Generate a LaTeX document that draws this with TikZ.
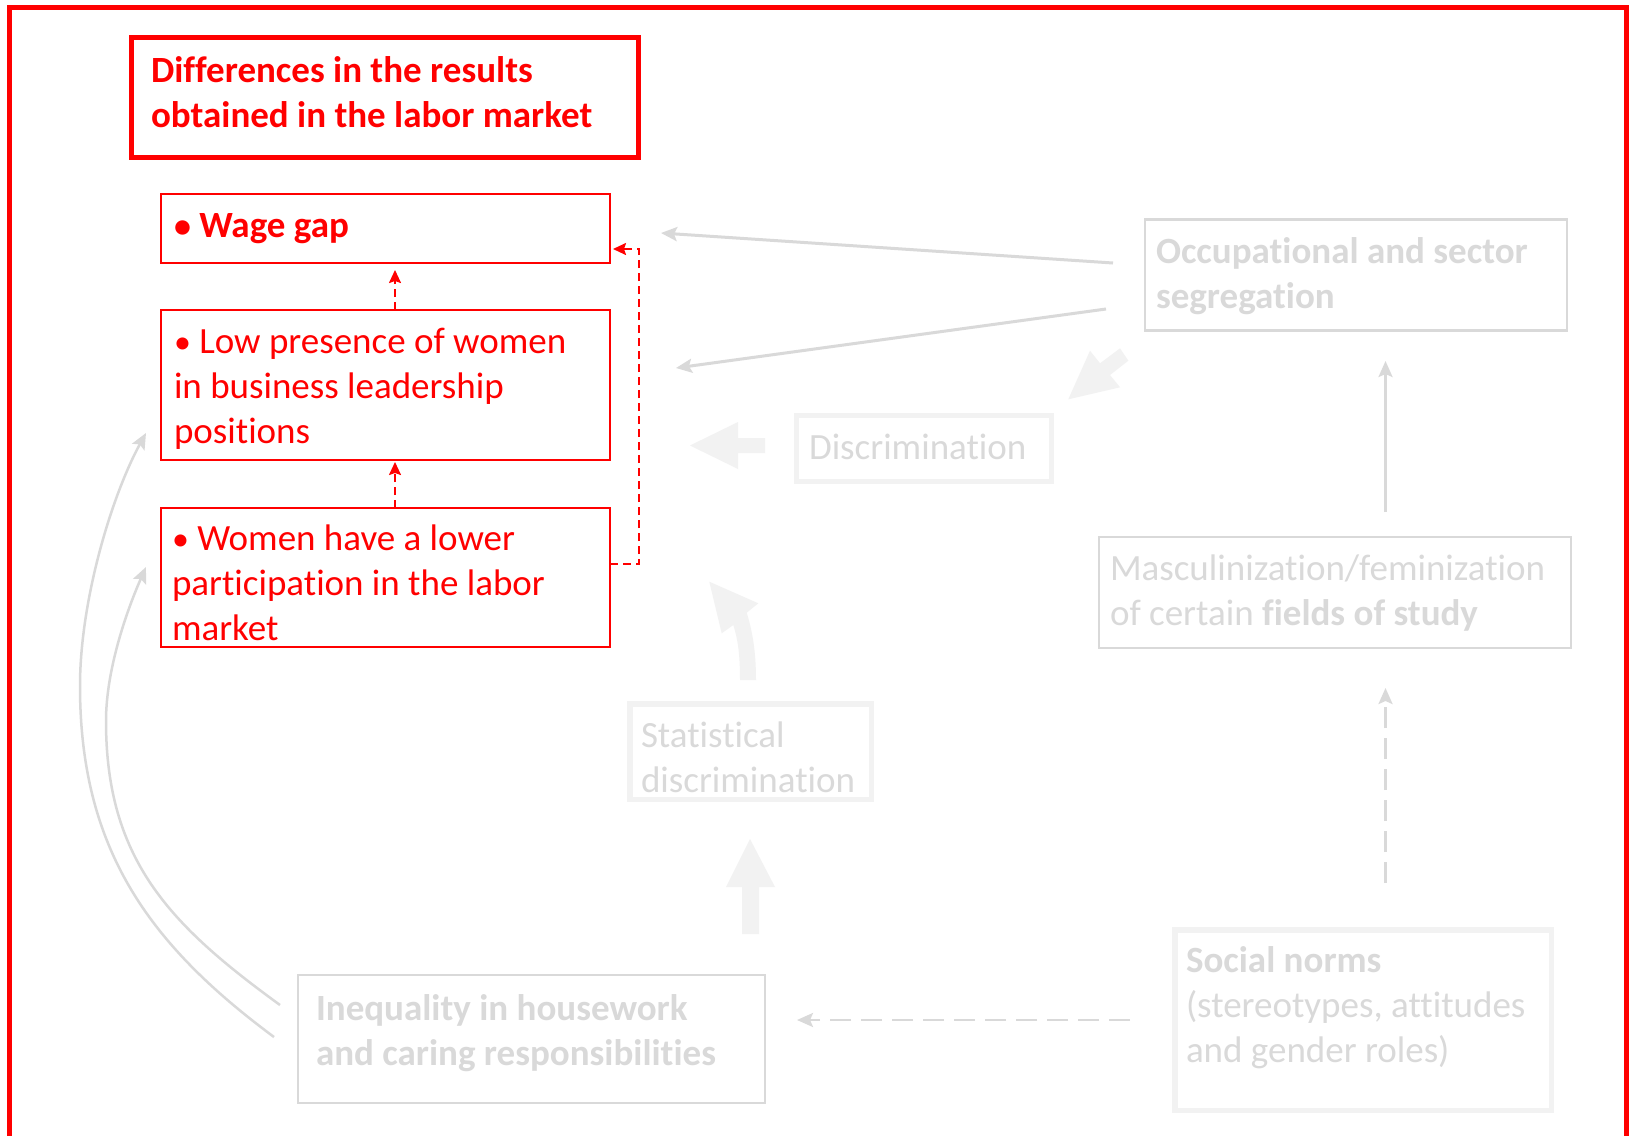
\documentclass[tikz,border=0pt]{standalone}
\usepackage{fontspec}
\setmainfont{Carlito}[Ligatures=NoCommon]
\usetikzlibrary{arrows.meta,calc}
\definecolor{accent}{HTML}{FF0000}
\definecolor{softgray}{HTML}{D9D9D9}
\definecolor{palegray}{HTML}{F2F2F2}
\newcommand{\mlines}[1]{\begin{tabular}[t]{@{}l@{}}#1\end{tabular}}
\newcommand{\dotmark}{{\fontsize{34}{45}\selectfont •}}

\begin{document}
\begin{tikzpicture}[x=1pt,y=-1pt,
  box/.style={draw, rectangle, inner sep=0pt, outer sep=0pt, anchor=north west},
  size/.style 2 args={minimum width=#1, minimum height=#2},
  redbox/.style={box, draw=accent, line width=2pt},
  titlebox/.style={box, draw=accent, line width=5pt},
  graybox/.style={box, draw=softgray, line width=2.5pt},
  palebox/.style={box, draw=palegray, line width=5.5pt},
  txt/.style={anchor=base west, inner sep=0pt, outer sep=0pt, font=\fontsize{37}{45}\selectfont},
  redtxt/.style={txt, text=accent},
  graytxt/.style={txt, text=softgray},
  graytip/.tip={Stealth[length=16pt,width=14pt,inset=3pt]},
  redtip/.tip={Stealth[length=13pt,width=12pt,inset=2pt]},
  thinarrow/.style={draw=softgray, line width=3pt, -graytip},
  dasharrow/.style={draw=softgray, line width=2.5pt, dash pattern=on 21pt off 10pt, -graytip},
  reddash/.style={draw=accent, line width=2pt, dash pattern=on 8pt off 5pt, -redtip},
  fatarrow/.style={fill=palegray, draw=none}
]
\useasboundingbox (0,0) rectangle (1632,1135);
\clip (0,0) rectangle (1632,1135);
\fill[white] (0,0) rectangle (1632,1135);

% outer frame
\node[box, draw=accent, line width=5pt, size={1617pt}{1160pt}] (frame) at (9.8,7.2) {};

% boxes
\node[titlebox, size={507pt}{120pt}] (title) at (131.5,37.5) {};
\node[redbox, size={449pt}{69pt}] (wage) at (161,194) {};
\node[redbox, size={449pt}{150pt}] (low) at (161,310) {};
\node[redbox, size={449pt}{139pt}] (women) at (161,508) {};
\node[graybox, size={422pt}{111pt}] (occ) at (1145,219.5) {};
\node[palebox, size={254.6pt}{65.6pt}] (disc) at (796.7,415.7) {};
\node[graybox, size={472pt}{111pt}] (masc) at (1099,537) {};
\node[palebox, size={241.5pt}{95.5pt}] (stat) at (629.75,703.75) {};
\node[graybox, size={467pt}{128pt}] (ineq) at (298,975) {};
\node[palebox, size={376.5pt}{180.5pt}] (social) at (1174.75,929.75) {};

% texts
\node[redtxt] (title-t) at (151,82) {\bfseries\mlines{Differences in the results\\obtained in the labor market}};
\node[redtxt] (wage-t) at (174,237) {\bfseries \dotmark\ Wage gap};
\node[redtxt] (low-t) at (174,353) {\mlines{\dotmark\ Low presence of women\\in business leadership\\positions}};
\node[redtxt] (women-t) at (172,550) {\mlines{\dotmark\ Women have a lower\\participation in the labor\\market}};
\node[graytxt] (occ-t) at (1156,263) {\bfseries\mlines{Occupational and sector\\segregation}};
\node[graytxt] (disc-t) at (809,459) {Discrimination};
\node[graytxt] (masc-t) at (1110,580) {\mlines{Masculinization/feminization\\of certain \textbf{fields of study}}};
\node[graytxt] (stat-t) at (641,747) {\mlines{Statistical\\discrimination}};
\node[graytxt] (ineq-t) at (316,1020) {\bfseries\mlines{Inequality in housework\\and caring responsibilities}};
\node[graytxt] (social-t) at (1186,972) {\mlines{\textbf{Social norms}\\(stereotypes, attitudes\\and gender roles)}};

% thin grey connectors
\coordinate (occ-o1) at (1113,263);
\coordinate (occ-o2) at (1106,309);
\coordinate (wage-in) at (661,233);
\coordinate (low-in) at (676,368);
\draw[thinarrow] (occ-o1) -- (wage-in);
\draw[thinarrow] (occ-o2) -- (low-in);
\coordinate (masc-top) at (1385.5,512);
\coordinate (occ-bot) at (1385.5,361);
\coordinate (soc-top) at (1385.5,883);
\coordinate (masc-bot) at (1385.5,688);
\coordinate (soc-left) at (1130,1020);
\coordinate (ineq-right) at (797,1020);
\draw[thinarrow, line width=2.5pt] (masc-top) -- (occ-bot);
\draw[dasharrow] (soc-top) -- (masc-bot);
\draw[dasharrow] (soc-left) -- (ineq-right);

% curved connectors from the housework box
\coordinate (ineq-o1) at (274,1037);
\coordinate (ineq-o2) at (280,1005);
\coordinate (low-side) at (146,433);
\coordinate (women-side) at (146,567);
\draw[draw=softgray, line width=2.5pt, -graytip]
  (ineq-o1) .. controls (150,945) and (80,850) .. (80,686)
            .. controls (80,600) and (112,495) .. (low-side);
\draw[draw=softgray, line width=2.5pt, -graytip]
  (ineq-o2) .. controls (170,925) and (106,860) .. (106,721)
            .. controls (106,666) and (129.8,603.6) .. (women-side);

% red dashed links
\coordinate (elbow) at (639,249);
\draw[reddash] (women.north -| 395,0) -- ([yshift=-2pt]low.south -| 395,0);
\draw[reddash] (low.north -| 395,0) -- ([yshift=-7pt]wage.south -| 395,0);
\draw[reddash] (women.east |- 0,564) -| (elbow) -- ([xshift=3pt]wage.east |- elbow);

% block arrows
\fill[fatarrow] (765,438) -- (738,438) -- (738,422) -- (690,445.5) -- (738,469) -- (738,453) -- (765,453) -- cycle;
\fill[fatarrow] (742,934) -- (742,887) -- (726,887) -- (750,839) -- (775,887) -- (759,887) -- (759,934) -- cycle;
\fill[fatarrow] (1068.3,399.3) -- (1090,350.7) -- (1100,363.3) -- (1120,348.3) -- (1128.3,360.7) -- (1110,375) -- (1120,387.3) -- cycle;
\fill[fatarrow] (740,680) .. controls (740,650) and (737,637) .. (733.3,625)
  -- (721.7,633.3) -- (709.3,581.7) -- (758.3,603.3) -- (746.7,612.7)
  .. controls (752,630) and (756,650) .. (756,680) -- cycle;
\end{tikzpicture}
\end{document}
